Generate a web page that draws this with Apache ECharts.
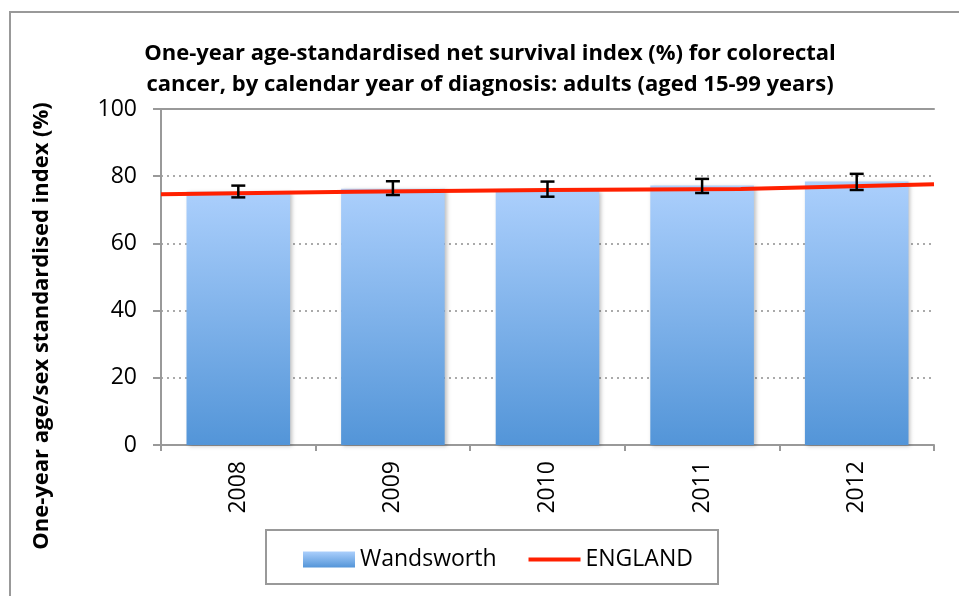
<!DOCTYPE html>
<html><head><meta charset="utf-8">
<script src="https://cdn.jsdelivr.net/npm/echarts@6/dist/echarts.min.js"></script>
<style>html,body{margin:0;padding:0;background:#fff}#c{width:959px;height:596px}</style>
</head><body><div id="c"></div>
<script>
const years = ['2008','2009','2010','2011','2012'];
const wandsworth = [75.4, 76.3, 75.6, 77.2, 78.4];
const ciLow = [73.7, 74.4, 73.9, 75.0, 75.9];
const ciHigh = [77.2, 78.5, 78.4, 79.2, 80.7];
const england = [74.6, 75.4, 75.9, 76.2, 77.6];
const yTicks = [0, 20, 40, 60, 80, 100];

const FONT = 'Open Sans';
const chart = echarts.init(document.getElementById('c'));
chart.setOption({
  animation: false,
  backgroundColor: '#fff',
  textStyle: {fontFamily: FONT},
  title: {
    text: 'One-year age-standardised net survival index (%) for colorectal\ncancer, by calendar year of diagnosis: adults (aged 15-99 years)',
    left: 485, top: 33, textAlign: 'center',
    textStyle: {fontFamily: FONT, fontWeight: 'bold', fontSize: 22, lineHeight: 31, color: '#000'}
  },
  graphic: [
    {type: 'polyline', shape: {points: [[10, 600], [10, 12], [962, 12]]}, style: {stroke: '#999', lineWidth: 2, fill: null}},
    {type: 'rect', shape: {x: 266, y: 530, width: 452, height: 54}, style: {stroke: '#999', lineWidth: 2, fill: '#fff'}, z: 0},
    {type: 'text', x: 42, y: 326, rotation: Math.PI / 2,
     style: {text: 'One-year age/sex standardised index (%)', align: 'center', verticalAlign: 'middle',
       font: 'bold 22px "Open Sans"', fill: '#000'}}
  ],
  legend: {
    left: 298, top: 543, itemGap: 32, itemWidth: 52, itemHeight: 16,
    textStyle: {fontFamily: FONT, fontSize: 23, color: '#000'},
    data: [
      {name: 'Wandsworth', icon: 'rect'},
      {name: 'ENGLAND', icon: 'path://M0,0 L54,0 L54,4 L0,4 Z'}
    ]
  },
  grid: {left: 161, right: 25, top: 109, bottom: 151},
  xAxis: [
    {type: 'category', data: years, boundaryGap: true,
     axisLine: {lineStyle: {color: '#999', width: 2}},
     axisTick: {show: true, length: 6, lineStyle: {color: '#999', width: 2}},
     axisLabel: {rotate: 90, fontSize: 23, color: '#000', margin: 16, fontFamily: FONT}},
    {type: 'category', data: years, boundaryGap: false, position: 'top',
     axisLine: {show: true, lineStyle: {color: '#999', width: 2}},
     axisTick: {show: false}, axisLabel: {show: false}}
  ],
  yAxis: {
    type: 'value', min: 0, max: 100, interval: 20,
    axisLine: {show: true, lineStyle: {color: '#999', width: 2}},
    axisTick: {show: true, length: 8, lineStyle: {color: '#999', width: 2}},
    axisLabel: {fontSize: 23, color: '#000', margin: 24, fontFamily: FONT,
      formatter: v => yTicks.includes(v) ? String(v) : ''},
    splitLine: {lineStyle: {color: '#aaa', type: [2, 4], width: 2}}
  },
  series: [
    {name: 'Wandsworth', type: 'bar', data: wandsworth, barWidth: '67%', xAxisIndex: 0,
     itemStyle: {color: new echarts.graphic.LinearGradient(0, 0, 0, 1, [
       {offset: 0, color: '#abcffc'}, {offset: 1, color: '#5395d8'}]),
       shadowColor: 'rgba(0,0,0,0.25)', shadowBlur: 4, shadowOffsetX: 2, shadowOffsetY: 1}},
    {name: 'errors', type: 'custom', xAxisIndex: 0, z: 5,
     data: years.map((y, i) => [i, ciLow[i], ciHigh[i]]),
     renderItem: (params, api) => {
       const lo = api.coord([api.value(0), api.value(1)]);
       const hi = api.coord([api.value(0), api.value(2)]);
       const w = 7;
       const st = {stroke: '#000', lineWidth: 2.5};
       return {type: 'group', children: [
         {type: 'line', shape: {x1: lo[0], y1: lo[1], x2: hi[0], y2: hi[1]}, style: st},
         {type: 'line', shape: {x1: lo[0] - w, y1: lo[1], x2: lo[0] + w, y2: lo[1]}, style: st},
         {type: 'line', shape: {x1: hi[0] - w, y1: hi[1], x2: hi[0] + w, y2: hi[1]}, style: st}
       ]};
     }},
    {name: 'ENGLAND', type: 'line', data: england, xAxisIndex: 1, z: 4,
     symbol: 'none', lineStyle: {color: '#ff2000', width: 4}, itemStyle: {color: '#ff2000'}}
  ]
});
</script></body></html>
